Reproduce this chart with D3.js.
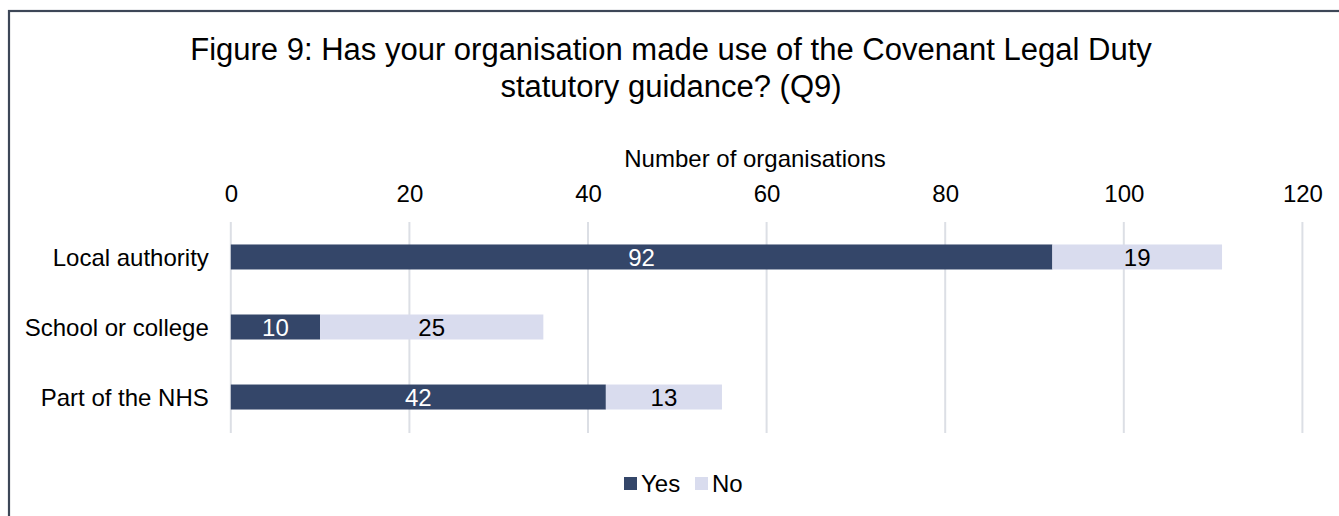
<!DOCTYPE html>
<html>
<head>
<meta charset="utf-8">
<script src="https://cdn.jsdelivr.net/npm/d3@7"></script>
<style>
  html, body { margin: 0; padding: 0; background: #ffffff; }
  svg { display: block; }
  text { font-family: "Liberation Sans", Arial, sans-serif; }
</style>
</head>
<body>
<svg id="chart" width="1339" height="516"></svg>
<script>
const titleLines = ["Figure 9: Has your organisation made use of the Covenant Legal Duty", "statutory guidance? (Q9)"];
const axisTitle = "Number of organisations";
const categories = ["Local authority", "School or college", "Part of the NHS"];
const seriesNames = ["Yes", "No"];
const yesValues = [92, 10, 42];
const noValues = [19, 25, 13];
const tickValues = [0, 20, 40, 60, 80, 100, 120];
const colors = ["#344669", "#d9dcee"];

const svg = d3.select("#chart");
const W = 1339, H = 516;

// frame
svg.append("rect")
  .attr("x", 9).attr("y", 11)
  .attr("width", W + 20).attr("height", H + 20)
  .attr("fill", "#ffffff")
  .attr("stroke", "#3d4757")
  .attr("stroke-width", 2.2);

// title
const title = svg.append("text")
  .attr("text-anchor", "middle")
  .attr("font-size", 31)
  .attr("fill", "#000");
titleLines.forEach((t, i) => {
  title.append("tspan").attr("x", 671).attr("y", 60 + i * 37).text(t);
});

const x = d3.scaleLinear().domain([0, 120]).range([230.8, 1302.4]);
const y = d3.scaleBand().domain(categories).range([222, 432]).paddingInner(0.643).paddingOuter(0.321);

// gridlines
svg.append("g").selectAll("line").data(tickValues).join("line")
  .attr("x1", d => x(d)).attr("x2", d => x(d))
  .attr("y1", 222).attr("y2", 433)
  .attr("stroke", "#dcdfe5").attr("stroke-width", 2);

// top axis labels
const xAxis = d3.axisTop(x).tickValues(tickValues).tickSize(0).tickPadding(0).tickFormat(d3.format("d"));
const gx = svg.append("g").attr("transform", "translate(0,202)").call(xAxis);
gx.select(".domain").remove();
gx.selectAll("text").attr("font-size", 24).attr("fill", "#000")
  .attr("font-family", "\"Liberation Sans\", Arial, sans-serif")
  .attr("dy", 0).attr("dominant-baseline", "auto");

// axis title
svg.append("text")
  .attr("x", 755).attr("y", 167)
  .attr("text-anchor", "middle")
  .attr("font-size", 24)
  .attr("fill", "#000")
  .text(axisTitle);

// category labels
const yAxis = d3.axisLeft(y).tickSize(0).tickPadding(22);
const gy = svg.append("g").attr("transform", `translate(${x(0)},0)`).call(yAxis);
gy.select(".domain").remove();
gy.selectAll("text").attr("font-size", 24).attr("fill", "#000")
  .attr("font-family", "\"Liberation Sans\", Arial, sans-serif")
  .attr("dy", "0.36em");

// stacked bars
const rows = categories.map((c, i) => ({ cat: c, Yes: yesValues[i], No: noValues[i] }));
const stack = d3.stack().keys(seriesNames)(rows);
const layers = svg.append("g").selectAll("g").data(stack).join("g")
  .attr("fill", (d, i) => colors[i]);
layers.selectAll("rect").data(d => d).join("rect")
  .attr("x", d => x(d[0]))
  .attr("width", d => x(d[1]) - x(d[0]))
  .attr("y", d => y(d.data.cat))
  .attr("height", y.bandwidth());

// data labels
const labels = svg.append("g");
stack.forEach((layer, li) => {
  labels.selectAll(null).data(layer).join("text")
    .attr("x", d => (x(d[0]) + x(d[1])) / 2)
    .attr("y", d => y(d.data.cat) + y.bandwidth() / 2)
    .attr("dy", "0.36em")
    .attr("text-anchor", "middle")
    .attr("font-size", 24)
    .attr("fill", li === 0 ? "#ffffff" : "#000000")
    .text(d => d[1] - d[0]);
});

// legend
const legendX = [624, 695];
const lg = svg.append("g");
seriesNames.forEach((s, i) => {
  lg.append("rect").attr("x", legendX[i]).attr("y", 477).attr("width", 13).attr("height", 13).attr("fill", colors[i]);
  lg.append("text").attr("x", legendX[i] + 17).attr("y", 491.5)
    .attr("font-size", 24).attr("fill", "#000").text(s);
});
</script>
</body>
</html>
